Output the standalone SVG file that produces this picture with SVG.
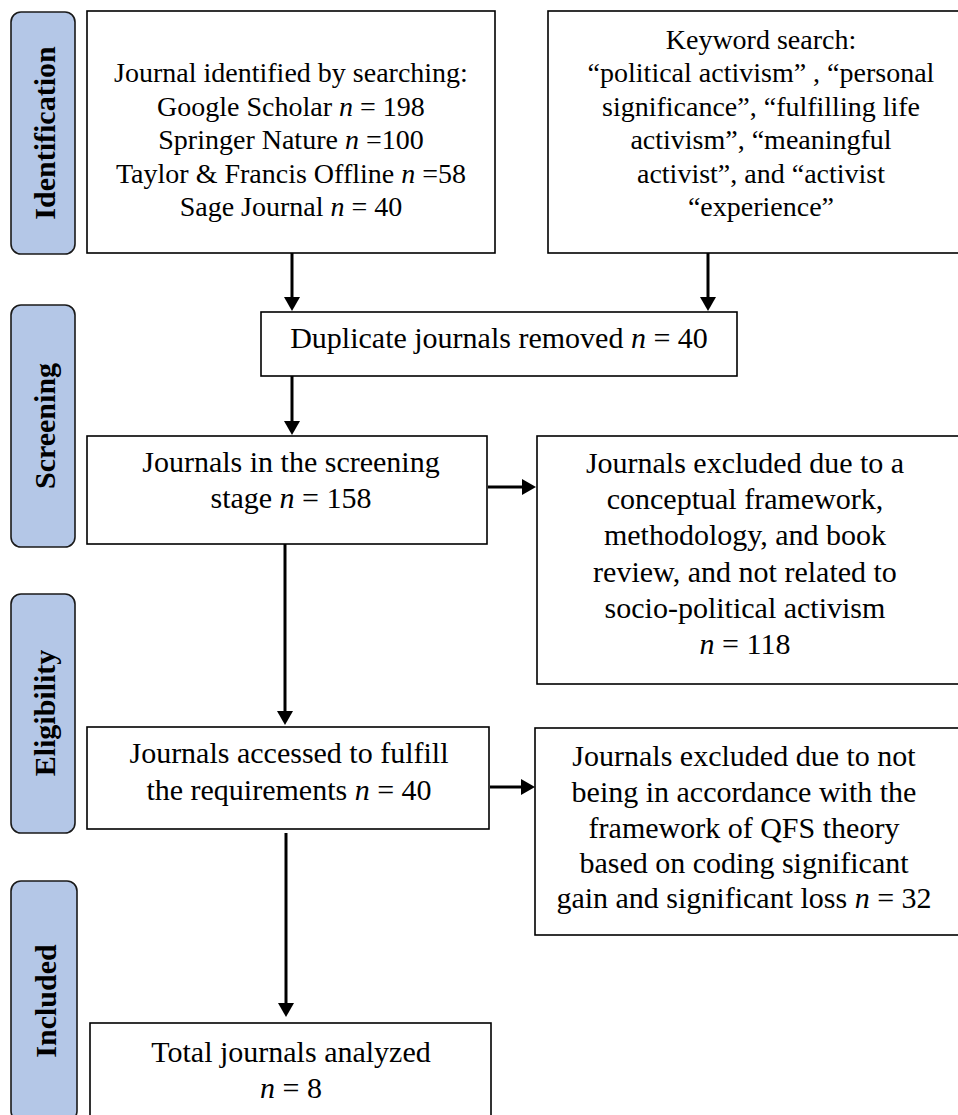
<svg xmlns="http://www.w3.org/2000/svg" width="958" height="1115" viewBox="0 0 958 1115">
<style>
.box{fill:#ffffff;stroke:#000000;stroke-width:1.6}
.lab{fill:#b4c7e7;stroke:#1a1a1a;stroke-width:1.6}
.t{font-family:"Liberation Serif","Times New Roman",serif;fill:#000000;text-anchor:middle}
.s28{font-size:28px}
.s30{font-size:30px}
.lt{font-family:"Liberation Serif","Times New Roman",serif;font-weight:bold;font-size:30px;fill:#000000;text-anchor:middle}
.i{font-style:italic}
.c{stroke:#000000;stroke-width:3;fill:none}
</style>
<defs>
<marker id="ah" viewBox="0 0 14 16" refX="0" refY="8" markerWidth="14" markerHeight="16" markerUnits="userSpaceOnUse" orient="auto">
<path d="M0,0 L14,8 L0,16 z" fill="#000000"/>
</marker>
</defs>
<rect width="958" height="1115" fill="#ffffff"/>

<g id="stage-identification">
<rect class="lab" x="11" y="12" width="64" height="242" rx="10"/>
<text class="lt" transform="translate(55,133) rotate(-90)">Identification</text>
</g>
<g id="stage-screening">
<rect class="lab" x="11" y="305" width="64" height="242" rx="10"/>
<text class="lt" transform="translate(55,426) rotate(-90)">Screening</text>
</g>
<g id="stage-eligibility">
<rect class="lab" x="11" y="594" width="64" height="239" rx="10"/>
<text class="lt" transform="translate(55,713) rotate(-90)">Eligibility</text>
</g>
<g id="stage-included">
<rect class="lab" x="11" y="881" width="66" height="240" rx="10"/>
<text class="lt" transform="translate(56,1001) rotate(-90)">Included</text>
</g>

<g id="connectors">
<line class="c" x1="292" y1="253" x2="292" y2="297" marker-end="url(#ah)"/>
<line class="c" x1="708" y1="253" x2="708" y2="297" marker-end="url(#ah)"/>
<line class="c" x1="292" y1="376" x2="292" y2="421" marker-end="url(#ah)"/>
<line class="c" x1="285" y1="542" x2="285" y2="711" marker-end="url(#ah)"/>
<line class="c" x1="286" y1="833" x2="286" y2="1003" marker-end="url(#ah)"/>
<line class="c" x1="488" y1="487" x2="522" y2="487" marker-end="url(#ah)"/>
<line class="c" x1="490" y1="787" x2="521" y2="787" marker-end="url(#ah)"/>
</g>

<g id="node-search">
<rect class="box" x="87" y="11" width="408" height="242"/>
<text class="t s28" x="291" y="82">Journal identified by searching:</text>
<text class="t s28" x="291" y="115.5">Google Scholar <tspan class="i">n</tspan> = 198</text>
<text class="t s28" x="291" y="149">Springer Nature <tspan class="i">n</tspan> =100</text>
<text class="t s28" x="291" y="182.5">Taylor &amp; Francis Offline <tspan class="i">n</tspan> =58</text>
<text class="t s28" x="291" y="216">Sage Journal <tspan class="i">n</tspan> = 40</text>
</g>

<g id="node-keywords">
<rect class="box" x="548" y="11" width="422" height="242"/>
<text class="t s28" x="761" y="48.5">Keyword search:</text>
<text class="t s28" x="761" y="82">“political activism” , “personal</text>
<text class="t s28" x="761" y="115.5">significance”, “fulfilling life</text>
<text class="t s28" x="761" y="149">activism”, “meaningful</text>
<text class="t s28" x="761" y="182.5">activist”, and “activist</text>
<text class="t s28" x="761" y="216">“experience”</text>
</g>

<g id="node-duplicates">
<rect class="box" x="261" y="312" width="476" height="64"/>
<text class="t s30" x="499" y="348">Duplicate journals removed <tspan class="i">n</tspan> = 40</text>
</g>

<g id="node-screening">
<rect class="box" x="87" y="436" width="400" height="108"/>
<text class="t s30" x="291" y="472">Journals in the screening</text>
<text class="t s30" x="291" y="508">stage <tspan class="i">n</tspan> = 158</text>
</g>

<g id="node-excluded-1">
<rect class="box" x="537" y="436" width="430" height="248"/>
<text class="t s30" x="745" y="473">Journals excluded due to a</text>
<text class="t s30" x="745" y="509">conceptual framework,</text>
<text class="t s30" x="745" y="545">methodology, and book</text>
<text class="t s30" x="745" y="582">review, and not related to</text>
<text class="t s30" x="745" y="618">socio-political activism</text>
<text class="t s30" x="745" y="654"><tspan class="i">n</tspan> = 118</text>
</g>

<g id="node-eligibility">
<rect class="box" x="87" y="727" width="402" height="102"/>
<text class="t s30" x="289" y="763">Journals accessed to fulfill</text>
<text class="t s30" x="289" y="800">the requirements <tspan class="i">n</tspan> = 40</text>
</g>

<g id="node-excluded-2">
<rect class="box" x="535" y="728" width="432" height="207"/>
<text class="t s30" x="744" y="766">Journals excluded due to not</text>
<text class="t s30" x="744" y="802">being in accordance with the</text>
<text class="t s30" x="744" y="838">framework of QFS theory</text>
<text class="t s30" x="744" y="873">based on coding significant</text>
<text class="t s30" x="744" y="908">gain and significant loss <tspan class="i">n</tspan> = 32</text>
</g>

<g id="node-included">
<rect class="box" x="90" y="1023" width="401" height="110"/>
<text class="t s30" x="291" y="1062">Total journals analyzed</text>
<text class="t s30" x="291" y="1098"><tspan class="i">n</tspan> = 8</text>
</g>
</svg>
